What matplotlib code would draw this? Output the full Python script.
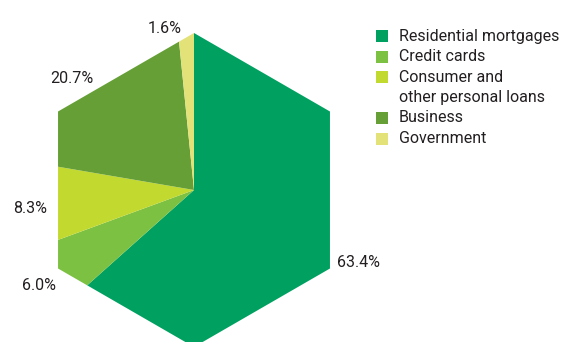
import matplotlib.pyplot as plt
import numpy as np
from matplotlib.patches import Polygon, Rectangle

categories = ['Residential mortgages', 'Credit cards', 'Consumer and\nother personal loans',
              'Business', 'Government']
shares = [63.4, 6.0, 8.3, 20.7, 1.6]
colors = ['#00a160', '#7dc142', '#c2d92f', '#659f36', '#e2e279']

# hand nudges (px) for the percentage labels
label_nudge = [(3, 0), (2, -1), (0, -4), (-8, -11), (-20, -19)]

plt.rcParams['font.family'] = ['Roboto', 'DejaVu Sans']
text_color = '#231f20'
fsize = 11.5

fig = plt.figure(figsize=(5.65, 3.42), dpi=100)
ax = fig.add_axes([0, 0, 1, 1])

# pixel-like coordinates, y pointing up
cx, cy = 194, 342 - 190
R = 157
apothem = R * np.cos(np.radians(30))

wedges, _ = ax.pie(shares, colors=colors, startangle=90, counterclock=False,
                   radius=220, center=(cx, cy), wedgeprops=dict(linewidth=0))

# clip the pie to a pointy-top hexagon
ang = np.radians(90 + 60 * np.arange(6))
hexagon = Polygon(np.column_stack([cx + R * np.cos(ang), cy + R * np.sin(ang)]),
                  closed=True, transform=ax.transData, facecolor='none', edgecolor='none')
ax.add_patch(hexagon)
for w in wedges:
    w.set_clip_on(True)
    w.set_clip_path(hexagon)

# percentage labels just outside the hexagon edge along each slice's middle
for w, s, (dx, dy) in zip(wedges, shares, label_nudge):
    mid = (w.theta1 + w.theta2) / 2
    normal = 60 * np.round(mid / 60)
    edge = apothem / np.cos(np.radians(mid - normal))
    r = edge + 28
    ax.text(cx + r * np.cos(np.radians(mid)) + dx, cy + r * np.sin(np.radians(mid)) + dy,
            f'{s:.1f}%', ha='center', va='center', fontsize=fsize, color=text_color)

# legend
y = 342 - 36
line_h = 20.5
for lab, c in zip(categories, colors):
    ax.add_patch(Rectangle((376, y - 6), 12, 12, facecolor=c, edgecolor='none'))
    for line in lab.split('\n'):
        ax.text(399, y, line, ha='left', va='center', fontsize=fsize, color=text_color)
        y -= line_h

ax.set_xlim(0, 565)
ax.set_ylim(0, 342)
ax.set_aspect('equal')
ax.axis('off')

fig.savefig('out.png', dpi=100)
